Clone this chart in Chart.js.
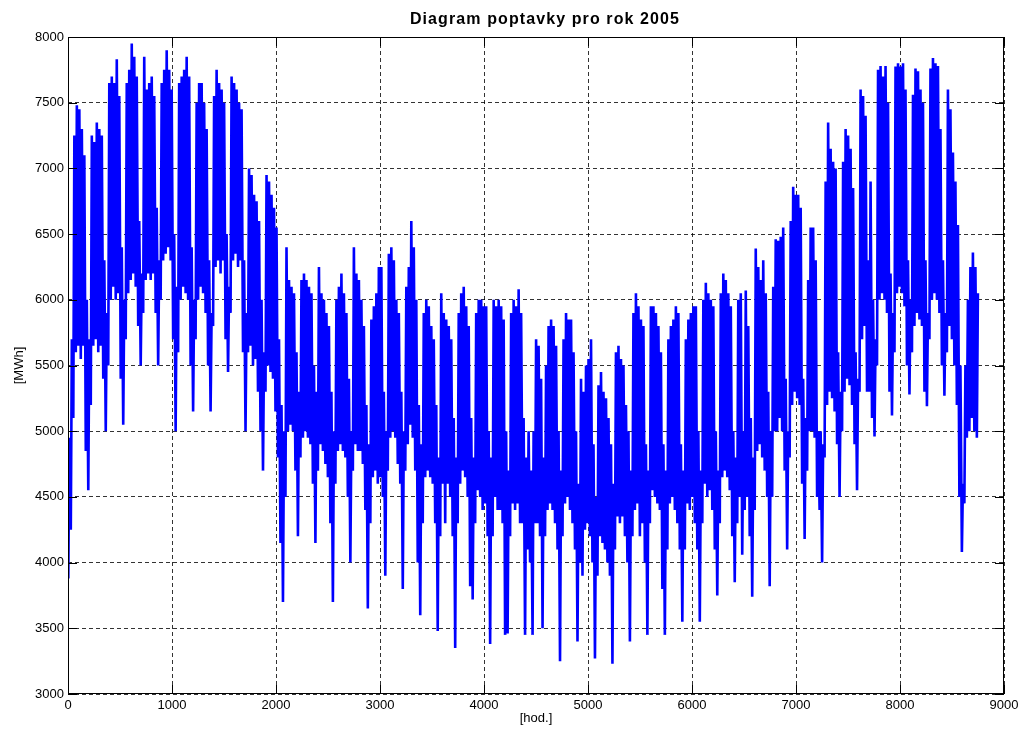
<!DOCTYPE html>
<html>
<head>
<meta charset="utf-8">
<script src="https://cdn.jsdelivr.net/npm/chart.js@4"></script>
<style>
  html, body { margin: 0; padding: 0; background: #fff; }
</style>
</head>
<body>
<canvas id="demandChart" width="1024" height="734"></canvas>
<script>
// Denni minima (noc) a maxima (poledne), 365 dni, 1 radek = 1 tyden (So..Pa)
const dayLow = [
  3880, 4250, 5100, 5600, 5650, 5550, 5650,
  4850, 4550, 5200, 5650, 5700, 5600, 5650,
  5400, 5000, 5500, 6000, 6100, 6000, 6050,
  5400, 5050, 5700, 6050, 6150, 6200, 6100,
  5800, 5500, 5900, 6150, 6200, 6150, 6200,
  5900, 5500, 6000, 6300, 6350, 6400, 6300,
  5700, 5000, 5600, 6000, 6100, 6050, 6000,
  5500, 5150, 5700, 6000, 6100, 6050, 5900,
  5500, 5150, 5800, 6250, 6300, 6200, 6300,
  5700, 5450, 5900, 6300, 6350, 6250, 6300,
  5600, 5000, 5600, 5650, 5500, 5550, 5300,
  5000, 4700, 5300, 5500, 5450, 5400, 5150,
  4800, 4150, 3700, 4500, 5000, 5050, 5000,
  4700, 4200, 4800, 4950, 5000, 4950, 4900,
  4600, 4150, 4700, 4900, 4850, 4750, 4650,
  4300, 3700, 4600, 4850, 4900, 4850, 4800,
  4500, 4000, 4700, 4900, 4850, 4850, 4750,
  4400, 3650, 4300, 4650, 4700, 4600, 4650,
  4500, 3900, 4700, 4950, 5000, 4950, 4750,
  4600, 3800, 4700, 4900, 5050, 4950, 4700,
  4000, 3600, 4300, 4650, 4700, 4650, 4600,
  4300, 3480, 4200, 4600, 4300, 4600, 4500,
  4200, 3350, 4300, 4600, 4700, 4650, 4500,
  3820, 3720, 4300, 4550, 4500, 4400, 4450,
  4200, 3380, 4200, 4500, 4400, 4400, 4300,
  3450, 3460, 4200, 4450, 4400, 4450, 4300,
  4300, 3450, 4100, 4000, 3450, 4300, 4300,
  4200, 3500, 4200, 4400, 4450, 4400, 4300,
  4100, 3250, 4200, 4450, 4500, 4400, 4300,
  4100, 3400, 4000, 3900, 4250, 4300, 4200,
  4000, 3270, 3900, 4200, 4150, 4100, 4000,
  3900, 3230, 4100, 4350, 4300, 4350, 4200,
  4000, 3400, 4200, 4400, 4450, 4200, 4300,
  4000, 3450, 4300, 4550, 4500, 4450, 4400,
  3800, 3450, 4100, 4450, 4500, 4400, 4300,
  4100, 3550, 4100, 4450, 4400, 4500, 4300,
  4100, 3550, 4300, 4600, 4500, 4550, 4400,
  4100, 3750, 4300, 4650, 4700, 4650, 4550,
  4200, 3850, 4300, 4500, 4060, 4400, 4500,
  4200, 3740, 4400, 4850, 4900, 4800, 4700,
  4500, 3820, 4500, 5000, 5000, 5100, 5000,
  4700, 4100, 4800, 5200, 5300, 5250, 5200,
  4600, 4180, 4700, 5000, 5000, 4950, 4500,
  4400, 4000, 4800, 5200, 5300, 5250, 5150,
  4900, 4500, 5000, 5300, 5400, 5350, 5200,
  4900, 4550, 5300, 5700, 5800, 5300, 5300,
  5100, 4960, 5500, 6000, 6050, 6000, 5900,
  5300, 5120, 5600, 6050, 6100, 6050, 5950,
  5500, 5280, 5600, 5800, 5900, 5850, 5800,
  5300, 5190, 5700, 6000, 6050, 6000, 5900,
  5500, 5270, 5600, 5800, 5700, 5500, 5200,
  4500, 4080, 4450, 4950, 5000, 5100, 5000,
  4950
];

const dayPeak = [
  4950, 5700, 7250, 7480, 7450, 7300, 7100,
  6000, 5700, 7250, 7200, 7350, 7300, 7250,
  6300, 5900, 7650, 7700, 7650, 7830, 7550,
  6400, 6000, 7650, 7750, 7950, 7850, 7700,
  6600, 6200, 7850, 7600, 7650, 7700, 7550,
  6700, 6300, 7650, 7750, 7900, 7750, 7600,
  6500, 6100, 7650, 7700, 7750, 7850, 7700,
  6400, 6000, 7500, 7650, 7650, 7500, 7300,
  6300, 5900, 7550, 7750, 7650, 7600, 7500,
  6500, 6100, 7700, 7650, 7600, 7500, 7450,
  6300, 5900, 7000, 6950, 6800, 6750, 6600,
  6000, 5600, 6950, 6900, 6800, 6700, 6550,
  5700, 5200, 5000, 6400, 6150, 6100, 6050,
  5600, 5300, 6150, 6200, 6150, 6100, 6050,
  5500, 5300, 6250, 6050, 6000, 5900, 5800,
  5300, 5000, 6000, 6100, 6200, 6050, 5900,
  5400, 5000, 6400, 6200, 6150, 6000, 5800,
  5200, 4900, 5850, 5950, 6050, 6250, 6250,
  5300, 5000, 6350, 6400, 6300, 6000, 5900,
  5300, 5000, 6100, 6250, 6600, 6400, 6000,
  5200, 4900, 5900, 6000, 5950, 5800, 5700,
  5200, 4800, 6050, 5900, 5850, 5800, 5700,
  5100, 4800, 5900, 6050, 6100, 5950, 5800,
  5100, 4800, 5900, 6000, 6000, 5950, 5950,
  5000, 4800, 6000, 5950, 6000, 5950, 5850,
  5000, 4700, 5900, 6000, 5950, 6080, 5900,
  5100, 4800, 5000, 4700, 5000, 5700, 5650,
  5400, 4800, 5500, 5800, 5850, 5800, 5650,
  5000, 4700, 5700, 5900, 5850, 5850, 5600,
  5000, 4600, 5400, 5300, 5500, 5550, 5700,
  4900, 4500, 5350, 5450, 5300, 5250, 5100,
  4900, 4600, 5600, 5650, 5550, 5500, 5200,
  5000, 4700, 5900, 6050, 5950, 5850, 5800,
  4900, 4700, 5950, 5950, 5900, 5800, 5600,
  4900, 4700, 5700, 5800, 5850, 5950, 5900,
  4900, 4700, 5700, 5850, 5900, 5950, 5950,
  5000, 4700, 6000, 6130, 6050, 6000, 5950,
  5000, 4700, 6050, 6200, 6150, 6050, 5950,
  5000, 4800, 6000, 6050, 5000, 6070, 5800,
  5100, 4800, 6390, 6250, 6150, 6300, 6050,
  5300, 5000, 6100, 6460, 6450, 6480, 6550,
  5400, 5000, 6600, 6860, 6800, 6800, 6700,
  5400, 5100, 6150, 6550, 6550, 6300, 5000,
  5000, 4900, 6900, 7350, 7150, 7050, 7000,
  5600, 5300, 7050, 7300, 7250, 7150, 6850,
  5600, 5400, 7600, 7550, 7400, 6300, 6900,
  6000, 5700, 7750, 7780, 7700, 7780, 7500,
  6200, 5900, 7775, 7800, 7775, 7800, 7600,
  6300, 6000, 7560, 7760, 7740, 7600, 7500,
  6300, 5900, 7760, 7840, 7800, 7780, 7300,
  6300, 5900, 7600, 7450, 7120, 6900, 6570,
  5500, 4600, 5500, 6000, 6250, 6360, 6250,
  6050
];

const xTicks = [0, 1000, 2000, 3000, 4000, 5000, 6000, 7000, 8000, 9000];
const yTicks = [3000, 3500, 4000, 4500, 5000, 5500, 6000, 6500, 7000, 7500, 8000];
const chartTitle = 'Diagram poptavky pro rok 2005';

// minimum ve 3 h, maximum ve 13 h kazdeho dne
const points = [];
dayLow.forEach((low, d) => {
  points.push({ x: d * 24 + 3, y: low });
  points.push({ x: d * 24 + 13, y: dayPeak[d] });
});

const FONT = '"Liberation Sans", Arial, Helvetica, sans-serif';

// ramecek, vnitrni carky a nadpis (s prostrkanim pisma)
const matlabBox = {
  id: 'matlabBox',
  afterDatasetsDraw(chart) {
    const { ctx, chartArea: a, scales: { x, y } } = chart;
    const len = 9;
    ctx.save();
    ctx.strokeStyle = '#000';
    ctx.lineWidth = 1;
    ctx.beginPath();
    xTicks.forEach(v => {
      const px = Math.round(x.getPixelForValue(v)) + 0.5;
      ctx.moveTo(px, a.bottom); ctx.lineTo(px, a.bottom - len);
      ctx.moveTo(px, a.top); ctx.lineTo(px, a.top + len);
    });
    yTicks.forEach(v => {
      const py = Math.round(y.getPixelForValue(v)) + 0.5;
      ctx.moveTo(a.left, py); ctx.lineTo(a.left + len, py);
      ctx.moveTo(a.right, py); ctx.lineTo(a.right - len, py);
    });
    ctx.stroke();
    ctx.strokeRect(Math.round(a.left) + 0.5, Math.round(a.top) + 0.5,
      Math.round(a.width) - 1, Math.round(a.height) - 1);

    ctx.fillStyle = '#000';
    ctx.font = 'bold 16px ' + FONT;
    ctx.letterSpacing = '1.1px';
    ctx.textAlign = 'center';
    ctx.textBaseline = 'middle';
    ctx.fillText(chartTitle, (a.left + a.right) / 2 + 9, 20);
    ctx.restore();
  }
};

const gridOpts = { color: 'rgba(0,0,0,0.8)', drawTicks: false, lineWidth: 1 };

new Chart(document.getElementById('demandChart'), {
  type: 'line',
  plugins: [matlabBox],
  data: {
    datasets: [{
      data: points,
      borderColor: '#0000ff',
      borderWidth: 2.6,
      pointRadius: 0,
      tension: 0,
      fill: false
    }]
  },
  options: {
    responsive: false,
    animation: false,
    layout: { padding: { left: 0, right: 20, top: 37, bottom: 0 } },
    plugins: {
      legend: { display: false },
      tooltip: { enabled: false },
      title: { display: false }
    },
    scales: {
      x: {
        type: 'linear',
        min: 0,
        max: 9000,
        afterBuildTicks: s => { s.ticks = xTicks.map(v => ({ value: v })); },
        afterFit: s => { s.height = 40; },
        grid: gridOpts,
        border: { display: false, dash: [4, 3] },
        ticks: { color: '#000', padding: 4, maxRotation: 0, font: { family: FONT, size: 13 }, callback: v => String(v) },
        title: { display: true, text: '[hod.]', color: '#000', font: { family: FONT, size: 13 }, padding: { top: 0, bottom: 8 } }
      },
      y: {
        min: 3000,
        max: 8000,
        afterBuildTicks: s => { s.ticks = yTicks.map(v => ({ value: v })); },
        afterFit: s => { s.width = 68; },
        grid: gridOpts,
        border: { display: false, dash: [4, 3] },
        ticks: { color: '#000', padding: 4, font: { family: FONT, size: 13 }, callback: v => String(v) },
        title: { display: true, text: '[MWh]', color: '#000', font: { family: FONT, size: 13 }, padding: { top: 12, bottom: 0 } }
      }
    }
  }
});
</script>
</body>
</html>
